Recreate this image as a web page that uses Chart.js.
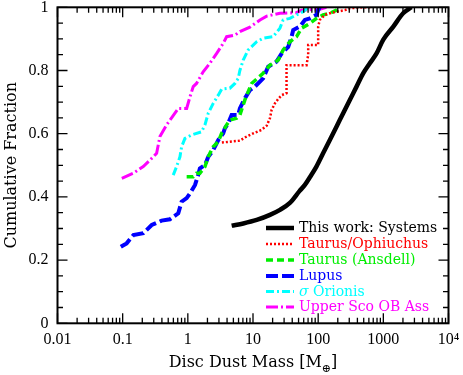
<!DOCTYPE html>
<html>
<head>
<meta charset="utf-8">
<script src="https://cdn.jsdelivr.net/npm/chart.js@4/dist/chart.umd.min.js"></script>
<style>
  html, body { margin: 0; padding: 0; background: #fff; }
  canvas { display: block; }
</style>
</head>
<body>
<canvas id="cdf" width="463" height="375"></canvas>
<script>
"use strict";
{
  // disc dust masses (Earth masses) and cumulative fractions
  const sysMass = [4.7, 7.1, 11.4, 18.2, 25.9, 36.8, 52, 62.5, 75, 94, 119, 151, 191, 242, 306, 388, 490, 620, 787, 993, 1423, 2013, 2700];
  const sysFrac = [0.309, 0.316, 0.327, 0.343, 0.359, 0.381, 0.419, 0.438, 0.463, 0.496, 0.538, 0.580, 0.622, 0.665, 0.707, 0.749, 0.791, 0.823, 0.854, 0.897, 0.939, 0.981, 1.0];

  const tauOphMass = [3.33, 6.29, 7.51, 10.1, 13.5, 16.2, 18.2, 19.3, 21.7, 24.4, 27.5, 32.7, 32.7, 66.4, 70.3, 70.3, 100, 100, 106, 127, 151, 191, 257, 306, 490, 659];
  const tauOphFrac = [0.572, 0.578, 0.588, 0.601, 0.612, 0.625, 0.649, 0.675, 0.696, 0.710, 0.722, 0.728, 0.817, 0.817, 0.850, 0.881, 0.881, 0.939, 0.960, 0.976, 0.981, 0.986, 0.991, 0.997, 1.0, 1.0];

  const ansdellMass = [0.959, 1.21, 1.36, 1.53, 1.83, 2.06, 2.45, 2.93, 3.30, 3.94, 4.42, 5.60, 6.29, 7.51, 9.52, 14.3, 18.2, 24.4, 29.0, 36.8, 46.6, 55.6, 74.6, 94.4, 119, 151, 191, 215];
  const ansdellFrac = [0.464, 0.464, 0.475, 0.475, 0.496, 0.527, 0.559, 0.575, 0.601, 0.628, 0.643, 0.649, 0.659, 0.707, 0.759, 0.791, 0.817, 0.833, 0.865, 0.891, 0.907, 0.934, 0.949, 0.965, 0.976, 0.981, 0.991, 1.0];

  const lupusMass = [0.0936, 0.115, 0.146, 0.207, 0.279, 0.396, 0.531, 0.713, 0.803, 0.959, 1.08, 1.29, 1.44, 1.53, 1.83, 2.06, 2.45, 2.93, 3.49, 3.70, 4.17, 4.70, 5.93, 6.29, 7.51, 8.96, 10.7, 14.3, 17.1, 23.0, 27.5, 34.7, 39.1, 41.4, 52.4, 62.5, 74.6, 94.4, 100, 106];
  const lupusFrac = [0.242, 0.253, 0.279, 0.285, 0.311, 0.325, 0.329, 0.348, 0.385, 0.396, 0.411, 0.438, 0.469, 0.490, 0.501, 0.527, 0.548, 0.580, 0.601, 0.617, 0.633, 0.659, 0.659, 0.680, 0.712, 0.738, 0.749, 0.775, 0.812, 0.828, 0.854, 0.875, 0.907, 0.928, 0.939, 0.960, 0.965, 0.976, 0.991, 1.0];

  const sigOriMass = [0.597, 0.673, 0.757, 0.803, 0.903, 1.14, 1.63, 1.83, 2.06, 2.45, 2.93, 3.30, 4.42, 5.28, 5.93, 6.29, 7.08, 8.44, 11.4, 14.3, 20.4, 25.9, 29.0, 36.8, 46.6, 58.9, 70.3];
  const sigOriFrac = [0.469, 0.496, 0.527, 0.559, 0.585, 0.596, 0.606, 0.628, 0.665, 0.696, 0.722, 0.741, 0.744, 0.759, 0.775, 0.800, 0.833, 0.865, 0.891, 0.902, 0.907, 0.934, 0.960, 0.965, 0.976, 0.986, 1.0];

  const uscoMass = [0.097, 0.146, 0.207, 0.279, 0.332, 0.373, 0.473, 0.634, 0.713, 0.959, 1.08, 1.21, 1.36, 1.72, 2.18, 2.77, 3.49, 3.94, 5.28, 6.29, 8.96, 12.8, 16.2, 25.9, 46.6, 55.6, 106, 134];
  const uscoFrac = [0.459, 0.475, 0.496, 0.522, 0.538, 0.591, 0.628, 0.665, 0.680, 0.680, 0.717, 0.749, 0.759, 0.796, 0.823, 0.854, 0.886, 0.907, 0.912, 0.923, 0.937, 0.960, 0.972, 0.981, 0.983, 0.991, 0.994, 1.0];

  const xTickValues = [0.01, 0.1, 1, 10, 100, 1000, 10000];
  const xTickLabels = ["0.01", "0.1", "1", "10", "100", "1000", "10\u2074"];
  const yTickLabels = ["0", "0.2", "0.4", "0.6", "0.8", "1"];

  const FONT = "DejaVu Serif";
  const TICK_FONT = "Liberation Serif";

  function pts(xs, ys) {
    return xs.map((x, i) => ({ x: x, y: ys[i] }));
  }

  const series = [
    { label: "This work: Systems", data: pts(sysMass, sysFrac), color: "#000000", width: 4.5, dash: [], smooth: true },
    { label: "Taurus/Ophiuchus", data: pts(tauOphMass, tauOphFrac), color: "#ff0000", width: 2.5, dash: [2, 2] },
    { label: "Taurus (Ansdell)", data: pts(ansdellMass, ansdellFrac), color: "#00ee00", width: 3.5, dash: [7, 4] },
    { label: "Lupus", data: pts(lupusMass, lupusFrac), color: "#0000ff", width: 4, dash: [12, 4] },
    { label: "\u03c3 Orionis", data: pts(sigOriMass, sigOriFrac), color: "#00ffff", width: 3, dash: [8, 3, 2, 3] },
    { label: "Upper Sco OB Ass", data: pts(uscoMass, uscoFrac), color: "#ff00ff", width: 3, dash: [12, 3, 2, 3] }
  ];

  // frame with inward ticks on all four sides, axis titles, legend
  const decor = {
    id: "decor",
    afterDraw(chart) {
      const ctx = chart.ctx;
      const a = chart.chartArea;
      const xs = chart.scales.x;
      const ys = chart.scales.y;
      ctx.save();
      ctx.strokeStyle = "#000";
      ctx.lineWidth = 1.3;
      ctx.setLineDash([]);
      ctx.beginPath();
      for (let d = -2; d <= 4; d++) {
        for (let m = 1; m <= 9; m++) {
          const v = m * Math.pow(10, d);
          if (v > 10000) break;
          const px = xs.getPixelForValue(v);
          const len = m === 1 ? 10 : 5.5;
          ctx.moveTo(px, a.bottom); ctx.lineTo(px, a.bottom - len);
          ctx.moveTo(px, a.top); ctx.lineTo(px, a.top + len);
        }
      }
      for (let i = 0; i <= 20; i++) {
        const py = ys.getPixelForValue(i * 0.05);
        const len = i % 4 === 0 ? 10 : 5.5;
        ctx.moveTo(a.left, py); ctx.lineTo(a.left + len, py);
        ctx.moveTo(a.right, py); ctx.lineTo(a.right - len, py);
      }
      ctx.stroke();
      ctx.lineWidth = 2;
      ctx.strokeRect(a.left, a.top, a.right - a.left, a.bottom - a.top);

      // axis titles
      ctx.fillStyle = "#000";
      ctx.font = "16px " + FONT;
      ctx.textBaseline = "alphabetic";
      const t1 = "Disc Dust Mass [M";
      const w1 = ctx.measureText(t1).width;
      ctx.font = "11px " + FONT;
      const w2 = ctx.measureText("\u2295").width;
      ctx.font = "16px " + FONT;
      const w3 = ctx.measureText("]").width;
      let tx = (a.left + a.right) / 2 - (w1 + w2 + w3) / 2;
      ctx.textAlign = "left";
      ctx.fillText(t1, tx, 367);
      ctx.font = "11px " + FONT;
      ctx.fillText("\u2295", tx + w1, 372);
      ctx.font = "16px " + FONT;
      ctx.fillText("]", tx + w1 + w2, 367);

      ctx.save();
      ctx.translate(15.5, (a.top + a.bottom) / 2);
      ctx.rotate(-Math.PI / 2);
      ctx.textAlign = "center";
      ctx.fillText("Cumulative Fraction", 0, 0);
      ctx.restore();

      // legend
      const rowY = [228, 244, 260, 276, 291.5, 307];
      chart.data.datasets.forEach((ds, i) => {
        const y = rowY[i];
        ctx.strokeStyle = ds.borderColor;
        ctx.lineWidth = ds.borderWidth;
        ctx.setLineDash(ds.borderDash || []);
        ctx.beginPath();
        ctx.moveTo(266, y);
        ctx.lineTo(294, y);
        ctx.stroke();
        ctx.setLineDash([]);
        ctx.fillStyle = ds.borderColor;
        ctx.textAlign = "left";
        ctx.textBaseline = "middle";
        if (ds.label.startsWith("\u03c3")) {
          ctx.font = "italic 14px " + FONT;
          ctx.fillText("\u03c3", 299, y + 0.5);
          const sw = ctx.measureText("\u03c3").width;
          ctx.font = "14px " + FONT;
          ctx.fillText(ds.label.slice(1), 299 + sw, y + 0.5);
        } else {
          ctx.font = "14px " + FONT;
          ctx.fillText(ds.label, 299, y + 0.5);
        }
      });
      ctx.restore();
    }
  };

  const canvas = document.getElementById("cdf");
  new Chart(canvas, {
    type: "line",
    data: {
      datasets: series.map((s) => ({
        label: s.label,
        data: s.data,
        borderColor: s.color,
        backgroundColor: s.color,
        borderWidth: s.width,
        borderDash: s.dash,
        borderCapStyle: "butt",
        pointRadius: 0,
        fill: false,
        cubicInterpolationMode: s.smooth ? "monotone" : "default",
        tension: 0
      }))
    },
    options: {
      responsive: false,
      animation: false,
      devicePixelRatio: 1,
      layout: { padding: { top: 7.3, right: 14.5, left: 0, bottom: 0 } },
      plugins: { legend: { display: false }, tooltip: { enabled: false } },
      scales: {
        x: {
          type: "logarithmic",
          min: 0.01,
          max: 10000,
          afterBuildTicks: (scale) => {
            scale.ticks = xTickValues.map((v) => ({ value: v }));
          },
          afterFit: (scale) => {
            scale.height = 51.7;
            scale.paddingLeft = 0;
            scale.paddingRight = 0;
          },
          grid: { display: false, drawTicks: false },
          border: { display: false },
          ticks: {
            autoSkip: false,
            maxRotation: 0,
            padding: 7,
            color: "#000",
            font: { family: TICK_FONT, size: 16 },
            callback: (v) => {
              const i = xTickValues.findIndex((t) => Math.abs(t - v) / t < 1e-6);
              return i >= 0 ? xTickLabels[i] : "";
            }
          }
        },
        y: {
          type: "linear",
          min: 0,
          max: 1,
          afterFit: (scale) => {
            scale.width = 57.5;
            scale.paddingTop = 0;
            scale.paddingBottom = 0;
          },
          grid: { display: false, drawTicks: false },
          border: { display: false },
          ticks: {
            stepSize: 0.2,
            padding: 9,
            color: "#000",
            font: { family: TICK_FONT, size: 16 },
            callback: (v) => yTickLabels[Math.round(v * 5)]
          }
        }
      }
    },
    plugins: [decor]
  });
}
</script>
</body>
</html>
